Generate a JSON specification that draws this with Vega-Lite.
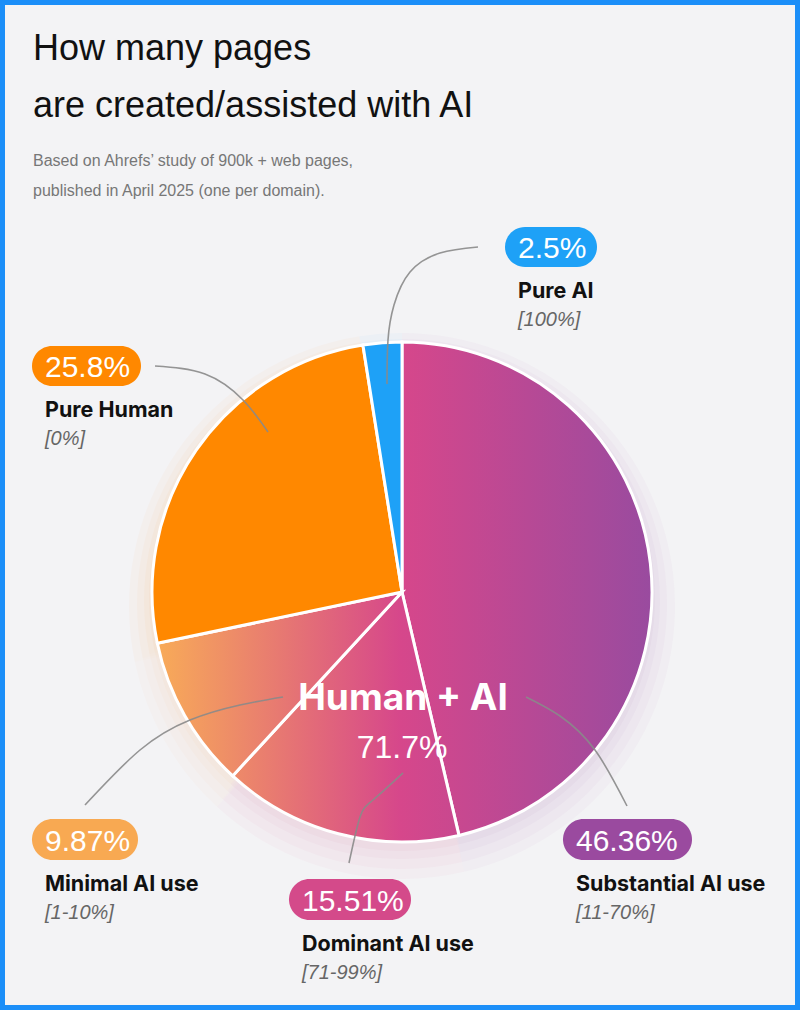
{
  "$schema": "https://vega.github.io/schema/vega-lite/v6.json",
  "width": 800,
  "height": 1010,
  "autosize": "none",
  "padding": 0,
  "background": "#f3f3f5",
  "title": {
    "text": ["How many pages", "are created/assisted with AI"],
    "subtitle": ["Based on Ahrefs’ study of 900k + web pages,", "published in April 2025 (one per domain)."],
    "anchor": "start",
    "frame": "group",
    "orient": "top",
    "offset": -200,
    "dx": 33,
    "font": "Liberation Sans",
    "fontSize": 36,
    "fontWeight": "normal",
    "color": "#111111",
    "lineHeight": 57,
    "subtitleFont": "Liberation Sans",
    "subtitleFontSize": 16,
    "subtitleColor": "#777777",
    "subtitleLineHeight": 30,
    "subtitlePadding": 28
  },
  "datasets": {
    "slices": [
      {"slice": "Substantial AI use", "range": "[11-70%]", "group": "Human + AI", "share": 0.4636, "seq": 1},
      {"slice": "Dominant AI use", "range": "[71-99%]", "group": "Human + AI", "share": 0.1551, "seq": 2},
      {"slice": "Minimal AI use", "range": "[1-10%]", "group": "Human + AI", "share": 0.0987, "seq": 3},
      {"slice": "Pure Human", "range": "[0%]", "group": "Pure Human", "share": 0.258, "seq": 4},
      {"slice": "Pure AI", "range": "[100%]", "group": "Pure AI", "share": 0.025, "seq": 5}
    ],
    "callouts": [
      {"slice": "Pure AI", "left": 103, "right": 195, "top": 365, "bottom": 325},
      {"slice": "Pure Human", "left": -370, "right": -261, "top": 246, "bottom": 206},
      {"slice": "Minimal AI use", "left": -370, "right": -264, "top": -227, "bottom": -268},
      {"slice": "Dominant AI use", "left": -113, "right": 9, "top": -287, "bottom": -328},
      {"slice": "Substantial AI use", "left": 161, "right": 290, "top": -227, "bottom": -268}
    ],
    "leaders": [
      {"slice": "Pure AI", "step": 1, "x": 76, "y": 345},
      {"slice": "Pure AI", "step": 2, "x": 38, "y": 339},
      {"slice": "Pure AI", "step": 3, "x": 8, "y": 320},
      {"slice": "Pure AI", "step": 4, "x": -8, "y": 287},
      {"slice": "Pure AI", "step": 5, "x": -14, "y": 252},
      {"slice": "Pure AI", "step": 6, "x": -15, "y": 208},
      {"slice": "Pure Human", "step": 1, "x": -247, "y": 226},
      {"slice": "Pure Human", "step": 2, "x": -197, "y": 218},
      {"slice": "Pure Human", "step": 3, "x": -159, "y": 192},
      {"slice": "Pure Human", "step": 4, "x": -134, "y": 160},
      {"slice": "Minimal AI use", "step": 1, "x": -119, "y": -105},
      {"slice": "Minimal AI use", "step": 2, "x": -162, "y": -113},
      {"slice": "Minimal AI use", "step": 3, "x": -212, "y": -128},
      {"slice": "Minimal AI use", "step": 4, "x": -262, "y": -158},
      {"slice": "Minimal AI use", "step": 5, "x": -317, "y": -213},
      {"slice": "Dominant AI use", "step": 1, "x": 1, "y": -181},
      {"slice": "Dominant AI use", "step": 2, "x": -29, "y": -208},
      {"slice": "Dominant AI use", "step": 3, "x": -42, "y": -225},
      {"slice": "Dominant AI use", "step": 4, "x": -53, "y": -271},
      {"slice": "Substantial AI use", "step": 1, "x": 124, "y": -105},
      {"slice": "Substantial AI use", "step": 2, "x": 158, "y": -124},
      {"slice": "Substantial AI use", "step": 3, "x": 193, "y": -158},
      {"slice": "Substantial AI use", "step": 4, "x": 225, "y": -214}
    ]
  },
  "layer": [
    {
      "data": {"name": "slices"},
      "mark": {"type": "arc", "outerRadius": 273, "fillOpacity": 0.03, "yOffset": 14},
      "encoding": {
        "x": {"datum": 0, "type": "quantitative", "scale": {"domain": [-402, 398], "nice": false, "zero": false}, "axis": null},
        "y": {"datum": 0, "type": "quantitative", "scale": {"domain": [-418, 592], "nice": false, "zero": false}, "axis": null},
        "theta": {"field": "share", "type": "quantitative", "stack": true},
        "order": {"field": "seq", "type": "quantitative"},
        "fill": {"field": "slice", "type": "nominal", "legend": null,
          "scale": {"domain": ["Substantial AI use", "Dominant AI use", "Minimal AI use", "Pure Human", "Pure AI"],
                    "range": ["#9a4a9f", "#d44a8a", "#f8a952", "#ff8800", "#1ea1f7"]}}
      }
    },
    {
      "data": {"name": "slices"},
      "mark": {"type": "arc", "outerRadius": 265, "fillOpacity": 0.03, "yOffset": 12},
      "encoding": {
        "x": {"datum": 0, "type": "quantitative"},
        "y": {"datum": 0, "type": "quantitative"},
        "theta": {"field": "share", "type": "quantitative", "stack": true},
        "order": {"field": "seq", "type": "quantitative"},
        "fill": {"field": "slice", "type": "nominal", "legend": null}
      }
    },
    {
      "data": {"name": "slices"},
      "mark": {"type": "arc", "outerRadius": 258, "fillOpacity": 0.035, "yOffset": 9},
      "encoding": {
        "x": {"datum": 0, "type": "quantitative"},
        "y": {"datum": 0, "type": "quantitative"},
        "theta": {"field": "share", "type": "quantitative", "stack": true},
        "order": {"field": "seq", "type": "quantitative"},
        "fill": {"field": "slice", "type": "nominal", "legend": null}
      }
    },
    {
      "data": {"name": "slices"},
      "mark": {"type": "arc", "outerRadius": 253, "fillOpacity": 0.04, "yOffset": 6},
      "encoding": {
        "x": {"datum": 0, "type": "quantitative"},
        "y": {"datum": 0, "type": "quantitative"},
        "theta": {"field": "share", "type": "quantitative", "stack": true},
        "order": {"field": "seq", "type": "quantitative"},
        "fill": {"field": "slice", "type": "nominal", "legend": null}
      }
    },
    {
      "data": {"name": "slices"},
      "mark": {"type": "arc", "outerRadius": 250, "stroke": "#ffffff", "strokeWidth": 3},
      "encoding": {
        "x": {"datum": 0, "type": "quantitative"},
        "y": {"datum": 0, "type": "quantitative"},
        "theta": {"field": "share", "type": "quantitative", "stack": true},
        "order": {"field": "seq", "type": "quantitative"},
        "detail": {"field": "slice", "type": "nominal"},
        "fill": {
          "condition": [
            {"test": "datum.slice === 'Substantial AI use'",
             "value": {"gradient": "linear", "x1": 0, "y1": 0, "x2": 1, "y2": 0,
                       "stops": [{"offset": 0, "color": "#d6478b"}, {"offset": 1, "color": "#994b9f"}]}},
            {"test": "datum.slice === 'Dominant AI use'",
             "value": {"gradient": "linear", "x1": 0, "y1": 0, "x2": 1, "y2": 0,
                       "stops": [{"offset": 0, "color": "#ee8b68"}, {"offset": 0.74, "color": "#d6478b"}, {"offset": 1, "color": "#c8488f"}]}},
            {"test": "datum.slice === 'Minimal AI use'",
             "value": {"gradient": "linear", "x1": 0, "y1": 0, "x2": 1, "y2": 0,
                       "stops": [{"offset": 0, "color": "#f8ab58"}, {"offset": 1, "color": "#d6478b"}]}},
            {"test": "datum.slice === 'Pure Human'", "value": "#ff8800"}
          ],
          "value": "#1ea1f7"
        }
      }
    },
    {
      "data": {"name": "leaders"},
      "mark": {"type": "line", "interpolate": "natural", "stroke": "#8a8a8a", "strokeWidth": 1.6, "opacity": 0.9},
      "encoding": {
        "x": {"field": "x", "type": "quantitative"},
        "y": {"field": "y", "type": "quantitative"},
        "detail": {"field": "slice", "type": "nominal"},
        "order": {"field": "step", "type": "quantitative"}
      }
    },
    {
      "data": {"name": "callouts"},
      "transform": [
        {"lookup": "slice", "from": {"data": {"name": "slices"}, "key": "slice", "fields": ["share", "range"]}}
      ],
      "layer": [
        {
          "mark": {"type": "rect", "cornerRadius": 20.5},
          "encoding": {
            "x": {"field": "left", "type": "quantitative"},
            "x2": {"field": "right"},
            "y": {"field": "top", "type": "quantitative"},
            "y2": {"field": "bottom"},
            "fill": {"field": "slice", "type": "nominal", "legend": null}
          }
        },
        {
          "mark": {"type": "text", "align": "left", "baseline": "alphabetic", "dx": 13, "dy": -9,
                   "font": "Liberation Sans", "fontSize": 30, "color": "#ffffff"},
          "encoding": {
            "x": {"field": "left", "type": "quantitative"},
            "y": {"field": "bottom", "type": "quantitative"},
            "text": {"field": "share", "type": "quantitative", "format": ".2~%"}
          }
        },
        {
          "mark": {"type": "text", "align": "left", "baseline": "alphabetic", "dx": 13, "dy": 31,
                   "font": "Inter", "fontSize": 21.5, "fontWeight": "bold", "color": "#111111"},
          "encoding": {
            "x": {"field": "left", "type": "quantitative"},
            "y": {"field": "bottom", "type": "quantitative"},
            "text": {"field": "slice", "type": "nominal"}
          }
        },
        {
          "mark": {"type": "text", "align": "left", "baseline": "alphabetic", "dx": 13, "dy": 59,
                   "font": "Liberation Sans", "fontSize": 20, "fontStyle": "italic", "color": "#666666"},
          "encoding": {
            "x": {"field": "left", "type": "quantitative"},
            "y": {"field": "bottom", "type": "quantitative"},
            "text": {"field": "range", "type": "nominal"}
          }
        }
      ]
    },
    {
      "data": {"name": "slices"},
      "transform": [
        {"filter": "datum.group === 'Human + AI'"},
        {"aggregate": [{"op": "sum", "field": "share", "as": "total"}], "groupby": ["group"]}
      ],
      "layer": [
        {
          "mark": {"type": "text", "align": "center", "baseline": "alphabetic", "dx": 1, "dy": 118,
                   "font": "Inter", "fontSize": 37, "fontWeight": "bold", "color": "#ffffff"},
          "encoding": {
            "x": {"datum": 0, "type": "quantitative"},
            "y": {"datum": 0, "type": "quantitative"},
            "text": {"field": "group", "type": "nominal"}
          }
        },
        {
          "mark": {"type": "text", "align": "center", "baseline": "alphabetic", "dx": 0, "dy": 166,
                   "font": "Liberation Sans", "fontSize": 32, "color": "#ffffff"},
          "encoding": {
            "x": {"datum": 0, "type": "quantitative"},
            "y": {"datum": 0, "type": "quantitative"},
            "text": {"field": "total", "type": "quantitative", "format": ".1%"}
          }
        }
      ]
    }
  ],
  "config": {
    "view": {"stroke": "#1b8ef8", "strokeWidth": 10, "fill": "#f3f3f5"}
  }
}
